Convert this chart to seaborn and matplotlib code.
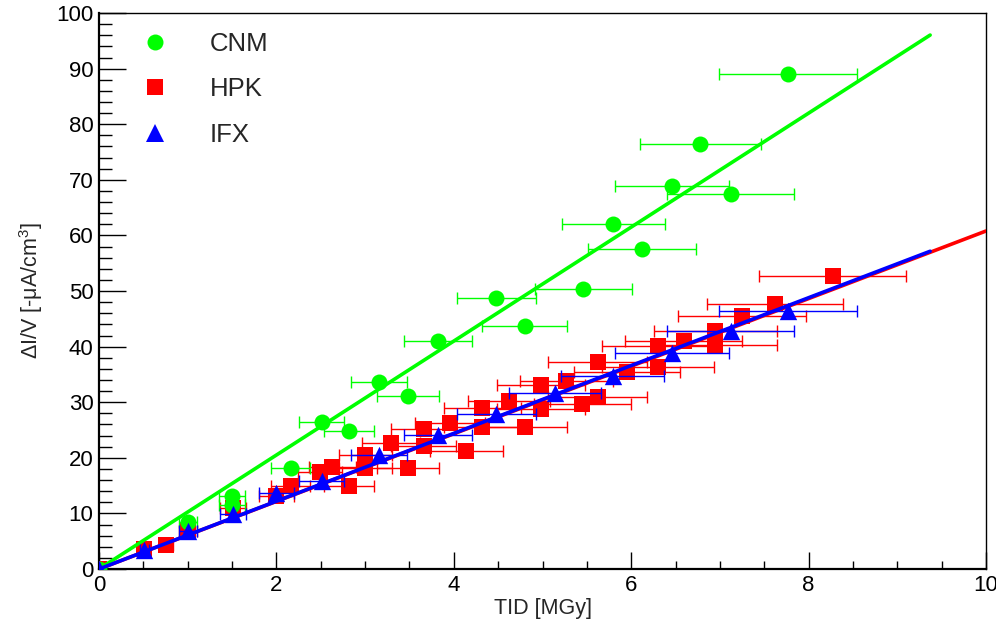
import numpy as np
import pandas as pd
import matplotlib
matplotlib.use("Agg")
import matplotlib.pyplot as plt
from matplotlib.lines import Line2D
from matplotlib.ticker import MultipleLocator
import seaborn as sns

# ---- measured leakage-current increase vs. total ionising dose ----
cnm_tid = [0, 1.0, 1.5, 1.5, 2.16, 2.51, 2.82, 3.16, 3.48, 3.82, 4.48, 4.80,
           5.46, 5.80, 6.12, 6.46, 6.78, 7.12, 7.77]
cnm_di = [0, 8.4, 13.2, 11.6, 18.2, 26.4, 24.8, 33.7, 31.2, 41.0, 48.7, 43.7,
          50.4, 62.1, 57.6, 68.9, 76.4, 67.4, 89.0]

hpk_tid = [0, 0.51, 0.76, 1.0, 1.51, 2.0, 2.16, 2.49, 2.63, 2.82, 3.0, 3.0,
           3.29, 3.48, 3.66, 3.66, 3.96, 4.14, 4.32, 4.32, 4.62, 4.80, 4.98,
           4.98, 5.27, 5.45, 5.62, 5.62, 5.95, 6.30, 6.30, 6.59, 6.95, 6.95,
           7.25, 7.62, 8.27]
hpk_di = [0, 3.6, 4.3, 6.8, 11.0, 13.2, 14.9, 17.4, 18.4, 14.9, 20.5, 18.1,
          22.7, 18.2, 25.2, 22.1, 26.3, 21.2, 28.9, 25.5, 30.2, 25.5, 33.1,
          28.8, 33.8, 29.7, 37.2, 30.9, 35.5, 40.1, 36.3, 41.0, 42.8, 40.3,
          45.5, 47.7, 52.7]

ifx_tid = [0, 0.51, 1.0, 1.51, 2.0, 2.51, 3.16, 3.82, 4.48, 5.14, 5.79, 6.46,
           7.12, 7.77]
ifx_di = [0, 3.4, 6.9, 9.9, 13.7, 15.8, 20.5, 24.1, 27.9, 31.7, 34.7, 38.8,
          42.8, 46.4]

# relative dosimetry uncertainty on the TID
tid_rel_unc = 0.10

# linear fits (through origin): slope and upper end of the fit range
fit_slope = {"CNM": 10.25, "HPK": 6.08, "IFX": 6.10}
fit_xmax = {"CNM": 9.37, "HPK": 10.0, "IFX": 9.37}

labels = ["CNM", "HPK", "IFX"]
colors = {"CNM": "#00ff00", "HPK": "#ff0000", "IFX": "#0000ff"}
markers = {"CNM": "o", "HPK": "s", "IFX": "^"}
msizes = {"CNM": 11.5, "HPK": 11.0, "IFX": 12.5}

series = {
    "CNM": pd.DataFrame({"tid": cnm_tid, "di": cnm_di}),
    "HPK": pd.DataFrame({"tid": hpk_tid, "di": hpk_di}),
    "IFX": pd.DataFrame({"tid": ifx_tid, "di": ifx_di}),
}

sns.set_theme(style="ticks")
plt.rcParams["font.family"] = ["Liberation Sans", "DejaVu Sans"]
plt.rcParams["mathtext.fontset"] = "custom"
plt.rcParams["mathtext.rm"] = "Liberation Sans"
plt.rcParams["mathtext.it"] = "Liberation Sans:italic"

fig = plt.figure(figsize=(9.96, 6.22), dpi=100)
ax = fig.add_axes([0.0994, 0.0852, 0.8906, 0.8938])

draw_order = ["HPK", "CNM", "IFX"]
for z, name in enumerate(draw_order):
    df = series[name]
    c = colors[name]
    base = 2 + 3 * z
    ax.errorbar(df["tid"], df["di"], xerr=tid_rel_unc * np.asarray(df["tid"]),
                fmt="none", ecolor=c, elinewidth=1.0, capsize=4.5,
                capthick=1.0, zorder=base)
    fx = np.array([0.0, fit_xmax[name]])
    fit_df = pd.DataFrame({"tid": fx, "di": fit_slope[name] * fx})
    sns.lineplot(data=fit_df, x="tid", y="di", ax=ax, color=c, linewidth=2.6,
                 zorder=base + 1)
    sns.scatterplot(data=df, x="tid", y="di", ax=ax, color=c,
                    marker=markers[name], s=msizes[name] ** 2, linewidth=0,
                    zorder=base + 2, legend=False)

ax.set_xlim(0, 10)
ax.set_ylim(0, 100)
ax.xaxis.set_major_locator(MultipleLocator(2))
ax.xaxis.set_minor_locator(MultipleLocator(0.5))
ax.yaxis.set_major_locator(MultipleLocator(10))
ax.yaxis.set_minor_locator(MultipleLocator(2))

ax.tick_params(axis="both", which="both", direction="in", colors="black",
               labelsize=16, top=False, right=False)
ax.tick_params(axis="y", which="major", length=19.4, width=1.0, pad=4)
ax.tick_params(axis="y", which="minor", length=9.7, width=1.0)
ax.tick_params(axis="x", which="major", length=12.2, width=1.0, pad=4)
ax.tick_params(axis="x", which="minor", length=6.1, width=1.0)

for side in ["left", "bottom"]:
    ax.spines[side].set_linewidth(1.6)
for side in ["top", "right"]:
    ax.spines[side].set_linewidth(1.0)
for sp in ax.spines.values():
    sp.set_color("black")
    sp.set_visible(True)

ax.set_xlabel("TID [MGy]", fontsize=15.5, labelpad=2)
ax.set_ylabel(r"ΔI/V [-μA/cm$^{3}$]", fontsize=15.5, labelpad=8)

handles = [Line2D([], [], linestyle="none", marker=markers[n], color=colors[n],
                  markersize=msizes[n], markeredgewidth=0) for n in labels]
ax.legend(handles, labels, loc="upper left", bbox_to_anchor=(0.0485, 0.966),
          frameon=False, fontsize=18.5, handlelength=1.0, handletextpad=1.64,
          borderpad=0, borderaxespad=0, labelspacing=0.83)

fig.savefig("out.png", dpi=100)
